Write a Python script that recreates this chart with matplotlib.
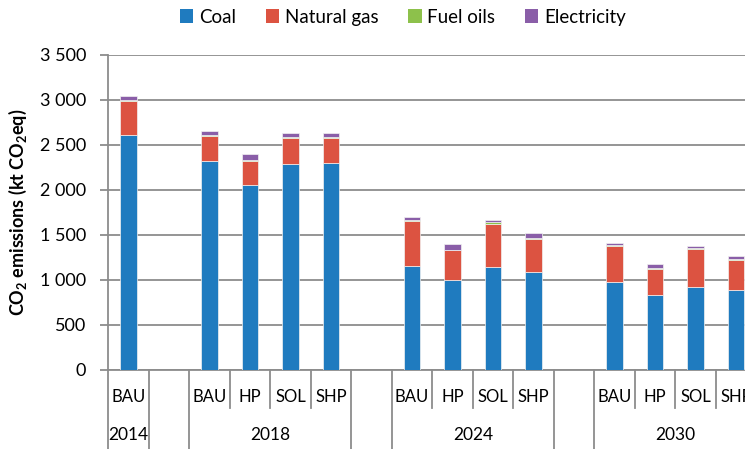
import matplotlib
matplotlib.use("Agg")
import matplotlib.pyplot as plt
from matplotlib.patches import Patch
from matplotlib.lines import Line2D
from matplotlib.ticker import FuncFormatter, MultipleLocator
import numpy as np

plt.rcParams["font.family"] = ["Lato", "DejaVu Sans"]
plt.rcParams["mathtext.fontset"] = "custom"
plt.rcParams["mathtext.rm"] = "Lato"
plt.rcParams["mathtext.bf"] = "Lato:bold"

# 16 category slots: empty strings are the spacer slots between year groups
scenarios = ["BAU", "", "BAU", "HP", "SOL", "SHP", "", "BAU", "HP", "SOL", "SHP",
             "", "BAU", "HP", "SOL", "SHP"]
years = ["2014", "", "2018", "", "2024", "", "2030"]
year_spans = [(0, 0), (1, 1), (2, 5), (6, 6), (7, 10), (11, 11), (12, 15)]

coal = [2610, 0, 2325, 2060, 2290, 2295, 0, 1160, 1005, 1140, 1085,
        0, 975, 835, 925, 885]
natural_gas = [380, 0, 280, 265, 290, 285, 0, 495, 325, 485, 372,
               0, 405, 290, 422, 340]
fuel_oils = [10, 0, 10, 8, 8, 8, 0, 12, 5, 15, 10,
             0, 7, 7, 7, 7]
electricity = [45, 0, 45, 70, 45, 45, 0, 30, 70, 30, 50,
               0, 23, 48, 22, 33]

series = [("Coal", coal, "#1f7bbf"),
          ("Natural gas", natural_gas, "#dc5341"),
          ("Fuel oils", fuel_oils, "#8dc14b"),
          ("Electricity", electricity, "#8a5ea8")]

fig = plt.figure(figsize=(7.45, 4.49), dpi=100)
ax = fig.add_axes([0.1454, 0.176, 0.8698, 0.7016])

x = np.arange(len(scenarios))
bottom = np.zeros(len(x))
for name, vals, col in series:
    v = np.array(vals, dtype=float)
    ax.bar(x, v, 0.4, bottom=bottom, color=col, edgecolor="#f2f2f2",
           linewidth=0.5, zorder=3)
    bottom += v

grid_c = "#8c8c8c"
ax.set_xlim(-0.5, len(x) - 0.5)
ax.set_ylim(0, 3500)
ax.yaxis.set_major_locator(MultipleLocator(500))
ax.yaxis.set_major_formatter(FuncFormatter(lambda v, p: f"{v:,.0f}".replace(",", " ")))
ax.grid(axis="y", color=grid_c, linewidth=1.3, zorder=0)
for s in ["top", "right"]:
    ax.spines[s].set_visible(False)
ax.spines["left"].set_color(grid_c)
ax.spines["bottom"].set_color(grid_c)
ax.spines["left"].set_linewidth(1.3)
ax.spines["bottom"].set_linewidth(1.3)
ax.tick_params(axis="y", colors=grid_c, length=6, width=1.3, labelcolor="black",
               labelsize=13, pad=10)
ax.set_xticks([])
ax.set_ylabel(r"CO$_\mathbf{2}$ emissions (kt CO$_\mathbf{2}$eq)", fontsize=13,
              fontweight="bold")
ax.yaxis.set_label_coords(-0.122, 0.5)

# two-level category axis
tr = ax.get_xaxis_transform()
row1_y, row2_y = -0.085, -0.206
short_y, full_y = -0.121, -0.26
for i, lab in enumerate(scenarios):
    ax.text(i, row1_y, lab, transform=tr, ha="center", va="center", fontsize=12)
for lab, (a, b) in zip(years, year_spans):
    ax.text((a + b) / 2, row2_y, lab, transform=tr, ha="center", va="center",
            fontsize=12.5)
full_bounds = sorted({a for a, b in year_spans} | {b + 1 for a, b in year_spans})
for k in range(len(x) + 1):
    yb = full_y if k in full_bounds else short_y
    ax.add_line(Line2D([k - 0.5, k - 0.5], [0, yb], transform=tr, color=grid_c,
                       linewidth=1.3, clip_on=False))

handles = [Patch(facecolor=c, edgecolor="none", label=n) for n, _, c in series]
fig.legend(handles=handles, loc="center", bbox_to_anchor=(0.541, 0.962), ncol=4,
           frameon=False, fontsize=13.5, handlelength=0.7, handleheight=0.7,
           handletextpad=0.3, columnspacing=1.6)

fig.savefig("out.png", dpi=100)
